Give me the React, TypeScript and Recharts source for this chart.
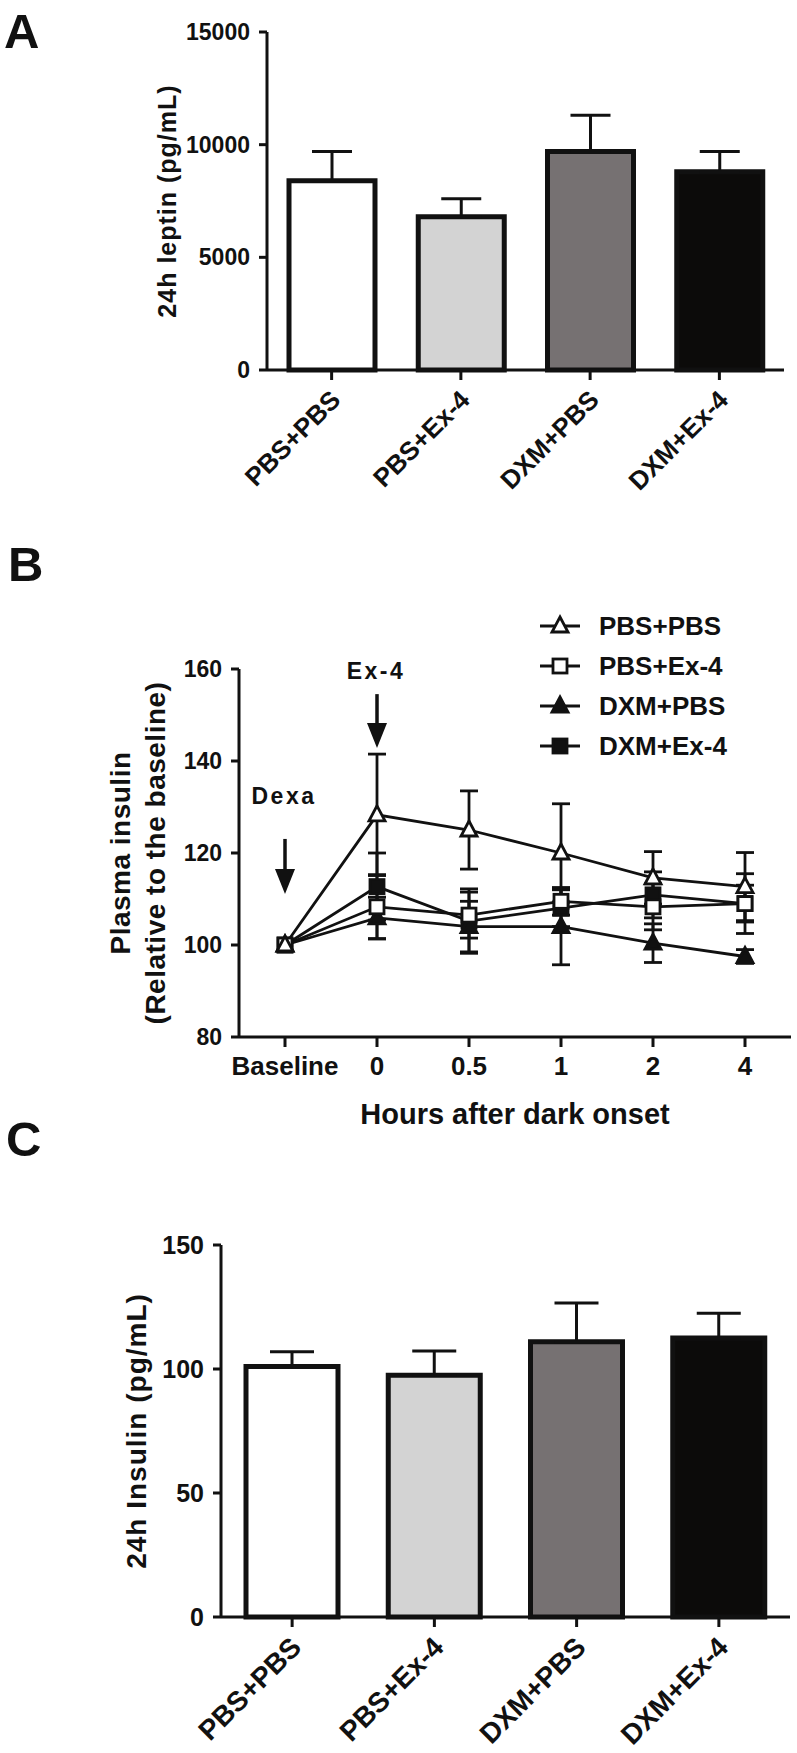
import React from "react";
import {
  Bar,
  BarChart,
  Cell,
  ErrorBar,
  Legend,
  Line,
  LineChart,
  ReferenceDot,
  XAxis,
  YAxis,
} from "recharts";

const FONT = "'Liberation Sans', Arial, Helvetica, sans-serif";
const INK = "#111111";

// panel A / C groups
const groups = ["PBS+PBS", "PBS+Ex-4", "DXM+PBS", "DXM+Ex-4"];
const barFills = ["#ffffff", "#d3d3d3", "#767172", "#0c0b0a"];

const leptinMean = [8400, 6800, 9700, 8800];
const leptinSem = [1300, 800, 1600, 900];
const leptinTicks = [0, 5000, 10000, 15000];

const insulin24Mean = [101, 97.5, 111, 112.5];
const insulin24Sem = [6, 9.8, 15.6, 10];
const insulin24Ticks = [0, 50, 100, 150];

// panel B time course
const timepoints = ["Baseline", "0", "0.5", "1", "2", "4"];
const pbsPbs = [100, 128.3, 125, 120, 114.6, 112.7];
const pbsPbsSem = [0, 13.2, 8.5, 10.7, 5.7, 7.4];
const pbsEx4 = [100, 108.3, 106.5, 109.5, 108.3, 109];
const pbsEx4Sem = [0, 7, 5, 3, 5, 6.5];
const dxmPbs = [100, 105.9, 104, 104, 100.4, 97.5];
const dxmPbsSem = [0, 4.5, 5.5, 8.3, 4.2, 1.5];
const dxmEx4 = [100, 112.7, 105.2, 108, 110.9, 109];
const dxmEx4Sem = [0, 7.3, 7, 4, 5, 4];
const insulinTicks = [80, 100, 120, 140, 160];

const leptinData = groups.map((g, i) => ({ group: g, mean: leptinMean[i], err: [0, leptinSem[i]] }));
const insulin24Data = groups.map((g, i) => ({ group: g, mean: insulin24Mean[i], err: [0, insulin24Sem[i]] }));
const timeData = timepoints.map((t, i) => ({
  t,
  pbsPbs: pbsPbs[i],
  pbsPbsE: pbsPbsSem[i],
  pbsEx4: pbsEx4[i],
  pbsEx4E: pbsEx4Sem[i],
  dxmPbs: dxmPbs[i],
  dxmPbsE: dxmPbsSem[i],
  dxmEx4: dxmEx4[i],
  dxmEx4E: dxmEx4Sem[i],
}));

type Series = { key: string; name: string; shape: "tri" | "sq"; filled: boolean };
const lineSeries: Series[] = [
  { key: "pbsPbs", name: "PBS+PBS", shape: "tri", filled: false },
  { key: "pbsEx4", name: "PBS+Ex-4", shape: "sq", filled: false },
  { key: "dxmPbs", name: "DXM+PBS", shape: "tri", filled: true },
  { key: "dxmEx4", name: "DXM+Ex-4", shape: "sq", filled: true },
];
// draw order: filled first, open triangle on top
const drawOrder = ["dxmEx4", "dxmPbs", "pbsEx4", "pbsPbs"];

function Marker({ cx, cy, s }: { cx: number; cy: number; s: Series }) {
  const fill = s.filled ? INK : "#fff";
  if (s.shape === "tri") {
    return (
      <polygon
        points={`${cx},${cy - 9} ${cx + 8},${cy + 6} ${cx - 8},${cy + 6}`}
        fill={fill}
        stroke={INK}
        strokeWidth={2.8}
      />
    );
  }
  return <rect x={cx - 7} y={cy - 7} width={14} height={14} fill={fill} stroke={INK} strokeWidth={2.8} />;
}

function SlantTick(props: any) {
  const { x, y, payload, fontSize } = props;
  return (
    <g transform={`translate(${x + 4},${y + 15})`}>
      <text
        transform="rotate(-45)"
        textAnchor="end"
        dy="0.35em"
        fontSize={fontSize}
        fontWeight="bold"
        fontFamily={FONT}
        fill={INK}
      >
        {payload.value}
      </text>
    </g>
  );
}

function vLabel(lines: string[], xs: number[], size: number, spacing = 0) {
  return (p: any) => {
    const vb = p.viewBox || {};
    const cy = (vb.y ?? 0) + (vb.height ?? 0) / 2;
    return (
      <g>
        {lines.map((l, i) => (
          <text
            key={l}
            transform={`translate(${xs[i]},${cy}) rotate(-90)`}
            textAnchor="middle"
            dy="0.35em"
            fontSize={size}
            fontWeight="bold"
            fontFamily={FONT}
            letterSpacing={spacing}
            fill={INK}
          >
            {l}
          </text>
        ))}
      </g>
    );
  };
}

function arrow(text: string, shaft: number, textOff: number) {
  return (p: any) => {
    const { cx, cy } = p;
    return (
      <g>
        <line x1={cx} y1={cy - shaft} x2={cx} y2={cy - 20} stroke={INK} strokeWidth={3.5} />
        <polygon points={`${cx - 10},${cy - 25} ${cx + 10},${cy - 25} ${cx},${cy}`} fill={INK} />
        <text
          x={cx - 1}
          y={cy - textOff}
          textAnchor="middle"
          dy="0.35em"
          fontSize={23}
          fontWeight="bold"
          fontFamily={FONT}
          letterSpacing={2.5}
          fill={INK}
        >
          {text}
        </text>
      </g>
    );
  };
}

function renderLegend() {
  return (
    <svg width={260} height={170}>
      {lineSeries.map((s, i) => {
        const y = 20 + i * 40;
        return (
          <g key={s.key}>
            <line x1={0} y1={y} x2={40} y2={y} stroke={INK} strokeWidth={2.8} />
            <Marker cx={20} cy={y} s={s} />
            <text x={59} y={y} dy="0.35em" fontSize={26} fontWeight="bold" fontFamily={FONT} fill={INK}>
              {s.name}
            </text>
          </g>
        );
      })}
    </svg>
  );
}

const axisStyle = { stroke: INK, strokeWidth: 3 };
const tickFont = (size: number) => ({ fill: INK, fontSize: size, fontWeight: "bold", fontFamily: FONT });

const panelLetter: React.CSSProperties = {
  position: "absolute",
  fontFamily: FONT,
  fontWeight: "bold",
  fontSize: 49,
  lineHeight: 1,
  color: INK,
};

function BarPanel({
  data,
  ticks,
  top,
  height,
  marginTop,
  yWidth,
  right,
  xHeight,
  barSize,
  capWidth,
  tickSize,
  labelSize,
  yLabel,
  yLabelX,
  yLabelSize,
}: any) {
  return (
    <div style={{ position: "absolute", left: 0, top }}>
      <BarChart width={797} height={height} data={data} margin={{ top: marginTop, right, left: 0, bottom: 0 }}>
        <XAxis
          dataKey="group"
          height={xHeight}
          axisLine={axisStyle}
          tickLine={axisStyle}
          tickSize={10}
          tickMargin={0}
          interval={0}
          tick={<SlantTick fontSize={labelSize} />}
        />
        <YAxis
          width={yWidth}
          domain={[ticks[0], ticks[ticks.length - 1]]}
          ticks={ticks}
          interval={0}
          axisLine={axisStyle}
          tickLine={axisStyle}
          tickSize={8}
          tickMargin={9}
          tick={tickFont(tickSize)}
          label={{ content: vLabel([yLabel], [yLabelX], yLabelSize, 1) }}
        />
        <Bar dataKey="mean" barSize={barSize} stroke={INK} strokeWidth={5} isAnimationActive={false}>
          {data.map((d: any, i: number) => (
            <Cell key={d.group} fill={barFills[i]} />
          ))}
          <ErrorBar dataKey="err" width={capWidth} stroke={INK} strokeWidth={3} />
        </Bar>
      </BarChart>
    </div>
  );
}

export default function App() {
  return (
    <div style={{ position: "absolute", left: 0, top: 0, width: 797, height: 1753, background: "#fff" }}>
      <div style={{ ...panelLetter, left: 4, top: 7 }}>A</div>
      <div style={{ ...panelLetter, left: 8, top: 540 }}>B</div>
      <div style={{ ...panelLetter, left: 6, top: 1115 }}>C</div>

      <BarPanel
        data={leptinData}
        ticks={leptinTicks}
        top={0}
        height={520}
        marginTop={32}
        yWidth={267}
        right={13}
        xHeight={150}
        barSize={86}
        capWidth={20}
        tickSize={23}
        labelSize={26}
        yLabel="24h leptin (pg/mL)"
        yLabelX={167}
        yLabelSize={25}
      />

      <div style={{ position: "absolute", left: 0, top: 520 }}>
        <LineChart width={797} height={620} data={timeData} margin={{ top: 149, right: 6, left: 0, bottom: 0 }}>
          <XAxis
            dataKey="t"
            height={103}
            padding={{ left: 46, right: 46 }}
            axisLine={axisStyle}
            tickLine={axisStyle}
            tickSize={10}
            tickMargin={10}
            interval={0}
            tick={tickFont(26)}
            label={{
              content: (p: any) => {
                const vb = p.viewBox || {};
                return (
                  <text
                    x={(vb.x ?? 239) + (vb.width ?? 552) / 2}
                    y={604}
                    textAnchor="middle"
                    fontSize={29}
                    fontWeight="bold"
                    fontFamily={FONT}
                    fill={INK}
                  >
                    Hours after dark onset
                  </text>
                );
              },
            }}
          />
          <YAxis
            width={239}
            domain={[80, 160]}
            ticks={insulinTicks}
            interval={0}
            axisLine={axisStyle}
            tickLine={axisStyle}
            tickSize={8}
            tickMargin={9}
            tick={tickFont(23)}
            label={{ content: vLabel(["Plasma insulin", "(Relative to the baseline)"], [120, 155], 28, 0.5) }}
          />
          <Legend
            layout="horizontal"
            verticalAlign="middle"
            align="center"
            content={renderLegend}
            wrapperStyle={{ position: "absolute", left: 540, top: 86, width: 260, height: 170 }}
          />
          {drawOrder.map((k) => {
            const s = lineSeries.find((x) => x.key === k)!;
            return (
              <Line
                key={k}
                dataKey={k}
                name={s.name}
                type="linear"
                stroke={INK}
                strokeWidth={2.8}
                isAnimationActive={false}
                dot={(p: any) => <Marker key={`${k}-${p.index}`} cx={p.cx} cy={p.cy} s={s} />}
                activeDot={false}
              >
                <ErrorBar dataKey={`${k}E`} width={9} stroke={INK} strokeWidth={2.8} direction="y" />
              </Line>
            );
          })}
          <ReferenceDot x="0" y={142.8} r={0} shape={arrow("Ex-4", 54, 77)} />
          <ReferenceDot x="Baseline" y={111.1} r={0} shape={arrow("Dexa", 55, 98)} />
        </LineChart>
      </div>

      <BarPanel
        data={insulin24Data}
        ticks={insulin24Ticks}
        top={1140}
        height={613}
        marginTop={105}
        yWidth={221}
        right={7}
        xHeight={136}
        barSize={92}
        capWidth={22}
        tickSize={25}
        labelSize={28}
        yLabel="24h Insulin (pg/mL)"
        yLabelX={136}
        yLabelSize={28}
      />
    </div>
  );
}
